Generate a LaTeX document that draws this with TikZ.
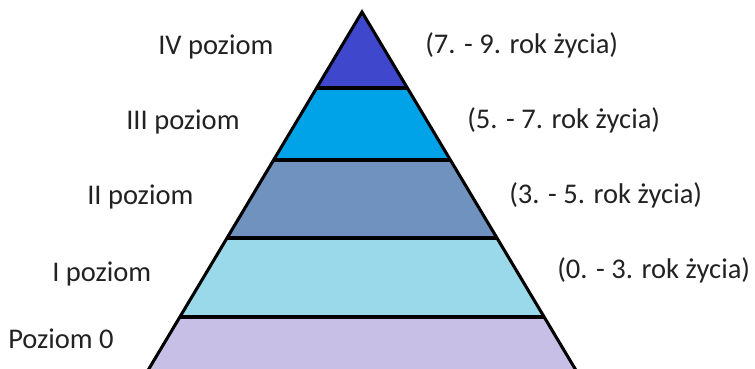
\documentclass[tikz,border=0pt]{standalone}
\usepackage{fontspec}
\setmainfont{Carlito}
\usetikzlibrary{calc}
\definecolor{cIV}{RGB}{63,72,204}
\definecolor{cIII}{RGB}{0,162,232}
\definecolor{cII}{RGB}{112,146,190}
\definecolor{cI}{RGB}{153,217,234}
\definecolor{cO}{RGB}{200,191,231}
\definecolor{txt}{RGB}{34,34,34}
\tikzset{
  lbl/.style={anchor=base west, inner sep=0pt, text=txt, font=\fontsize{21.4pt}{24pt}\selectfont},
  edge/.style={line width=2.3pt, black},
  sep/.style={line width=2.8pt, black}
}
\begin{document}
\begin{tikzpicture}[x=0.75pt,y=-0.75pt]
\useasboundingbox (0,0) rectangle (755,368);
\coordinate (A) at (362,12);
\coordinate (L) at (147,372);
\coordinate (R) at (577,372);
% boundary points
\foreach \n/\t in {a/0.2111, b/0.4111, c/0.6278, d/0.8472}{
  \coordinate (\n l) at ($(A)!\t!(L)$);
  \coordinate (\n r) at ($(A)!\t!(R)$);
}
\fill[cIV] (A) -- (ar) -- (al) -- cycle;
\fill[cIII] (al) -- (ar) -- (br) -- (bl) -- cycle;
\fill[cII] (bl) -- (br) -- (cr) -- (cl) -- cycle;
\fill[cI] (cl) -- (cr) -- (dr) -- (dl) -- cycle;
\fill[cO] (dl) -- (dr) -- (R) -- (L) -- cycle;
\foreach \n in {a,b,c,d}{ \draw[sep] (\n l) -- (\n r); }
\draw[edge, line join=miter] (L) -- (A) -- (R);
% labels
\node[lbl] (n4) at (158,54) {IV poziom};
\node[lbl] (n3) at (126,129) {III poziom};
\node[lbl] (n2) at (87,204) {II poziom};
\node[lbl] (n1) at (52,281) {I poziom};
\node[lbl] (n0) at (8,348) {Poziom 0};
\node[lbl] (r4) at (425,53) {(7. - 9. rok życia)};
\node[lbl] (r3) at (467,128) {(5. - 7. rok życia)};
\node[lbl] (r2) at (509,203) {(3. - 5. rok życia)};
\node[lbl] (r1) at (557,278) {(0. - 3. rok życia)};
\end{tikzpicture}
\end{document}
